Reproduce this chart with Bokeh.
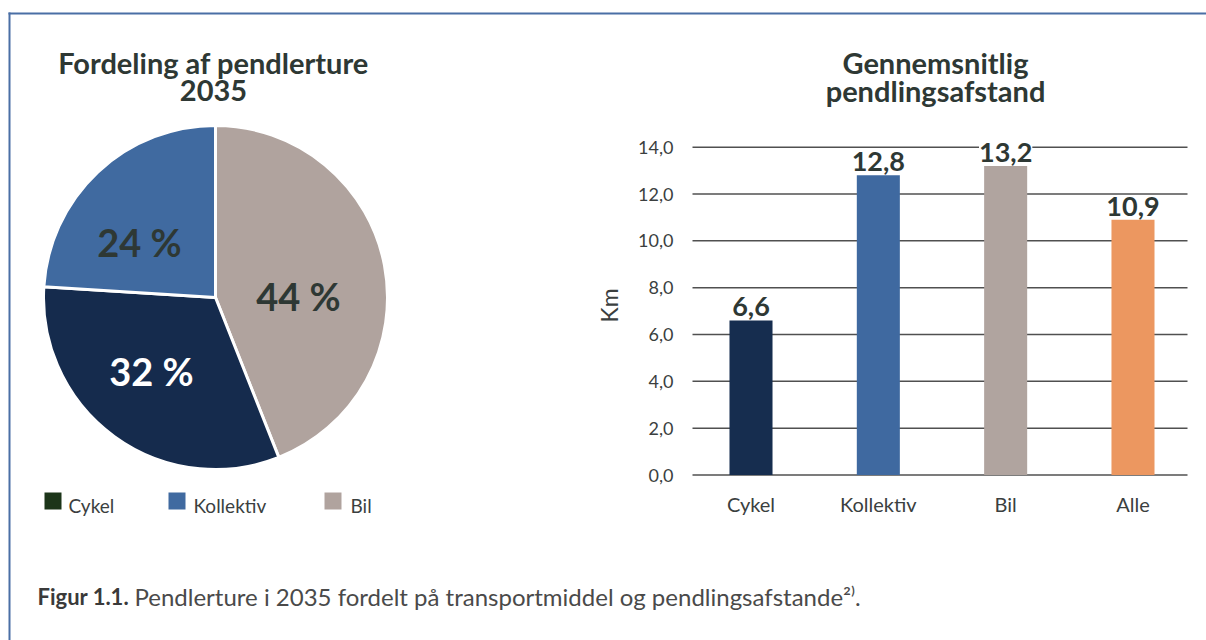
from bokeh.plotting import figure
from bokeh.models import Range1d, ColumnDataSource, FixedTicker, CustomJSTickFormatter, LinearAxis
from bokeh.core.properties import value
from bokeh.embed import file_html
from bokeh.resources import INLINE
import math

# ---------------- data ----------------
pie_title = ["Fordeling af pendlerture", "2035"]
pie_cats = ["Cykel", "Kollektiv", "Bil"]
pie_shares = [32, 24, 44]
pie_colors = ["#152b4d", "#406aa0", "#b0a39e"]
legend_colors = ["#1c3519", "#406aa0", "#b0a39e"]
pie_label_colors = ["#ffffff", "#2e3834", "#2e3834"]

bar_title = ["Gennemsnitlig", "pendlingsafstand"]
bar_cats = ["Cykel", "Kollektiv", "Bil", "Alle"]
bar_values = [6.6, 12.8, 13.2, 10.9]
bar_colors = ["#162d4f", "#3f69a0", "#b0a49f", "#ec9760"]
y_ticks = [0, 2, 4, 6, 8, 10, 12, 14]
y_label = "Km"

caption_bold = "Figur 1.1."
caption_text = "Pendlerture i 2035 fordelt på transportmiddel og pendlingsafstande²⁾."

FONT = "Lato"
DARK = "#2e3834"
TXT = "#3b3f3f"
FRAME = "#4a6fa5"
W, H = 1206, 640

# one canvas, primary ranges in page pixels
p = figure(width=W, height=H, x_range=Range1d(0, W), y_range=Range1d(H, 0),
           x_axis_type=None, y_axis_type=None, toolbar_location=None,
           output_backend="svg", min_border=0)
p.outline_line_color = None
p.background_fill_color = "white"
p.border_fill_color = "white"

# ---------- frame lines ----------
p.quad(left=8, right=W, top=12, bottom=14, color=FRAME, line_color=None)
p.quad(left=8, right=10, top=12, bottom=H, color=FRAME, line_color=None)

# ---------- pie ----------
cx, cy, r = 215, 297, 172
order = [2, 0, 1]  # clockwise from 12 o'clock: Bil, Cykel, Kollektiv
label_pos = {2: (298, 295), 0: (151, 370.5), 1: (139, 241.5)}
total = sum(pie_shares)
cum = 0.0
starts, ends, cols = [], [], []
for i in order:
    a_end = math.radians(90 - cum / total * 360)
    cum += pie_shares[i]
    a_start = math.radians(90 - cum / total * 360)
    starts.append(a_start); ends.append(a_end); cols.append(pie_colors[i])
src = ColumnDataSource(dict(s=starts, e=ends, c=cols))
p.wedge(x=cx, y=cy, radius=r, radius_units="screen", start_angle="s", end_angle="e",
        fill_color="c", line_color="white", line_width=3, source=src)
for i in order:
    x, y = label_pos[i]
    p.text(x=[x], y=[y], text=[f"{pie_shares[i]} %"], text_font=value(FONT),
           text_font_style="bold", text_font_size="38px", text_color=pie_label_colors[i],
           text_align="center", text_baseline="middle")

for k, t in enumerate(pie_title):
    p.text(x=[213], y=[62 + 28 * k], text=[t], text_font=value(FONT), text_font_style="bold",
           text_font_size="29px", text_color=DARK, text_align="center", text_baseline="middle")

leg_sq = [52.5, 176.5, 332.5]
leg_tx = [68, 193, 350]
for k, cat in enumerate(pie_cats):
    p.scatter(x=[leg_sq[k]], y=[500.5], marker="square", size=17, color=legend_colors[k], line_color=None)
    p.text(x=[leg_tx[k]], y=[505], text=[cat], text_font=value(FONT), text_font_size="19px",
           text_color=TXT, text_align="left", text_baseline="middle")

# ---------- bar chart (own scales) ----------
PL, PR = 692, 1187          # plot area left/right in page px
px_per_cat = 127.33
x0_page = 750.5             # page x of first category
bx_start = -x0_page / px_per_cat
bx_end = bx_start + W / px_per_cat
px_per_km = 23.414
zero_page = 474.5
km_end = zero_page / px_per_km
km_start = km_end - H / px_per_km
p.extra_x_ranges = {"bx": Range1d(bx_start, bx_end)}
p.extra_y_ranges = {"km": Range1d(km_start, km_end)}

# grid lines at tick values
p.segment(x0=PL, x1=PR, y0=y_ticks, y1=y_ticks, y_range_name="km", line_color="#505050", line_width=1.5)

yax = LinearAxis(y_range_name="km", fixed_location=PL, ticker=FixedTicker(ticks=y_ticks),
                 formatter=CustomJSTickFormatter(code="return tick.toFixed(1).replace('.', ',');"),
                 bounds=(0, 14.5))
xax = LinearAxis(x_range_name="bx", fixed_location=480, ticker=FixedTicker(ticks=list(range(len(bar_cats)))),
                 major_label_overrides={i: c for i, c in enumerate(bar_cats)})
for ax in (xax, yax):
    ax.axis_line_color = None
    ax.major_tick_line_color = None
    ax.minor_tick_line_color = None
    ax.major_label_text_font = FONT
    ax.major_label_text_color = TXT
yax.major_label_text_font_size = "18px"
yax.major_label_standoff = 13
xax.major_label_text_font_size = "20px"
xax.major_label_standoff = 5
yax.axis_label = y_label
yax.axis_label_text_font = FONT
yax.axis_label_text_font_style = "normal"
yax.axis_label_text_font_size = "23px"
yax.axis_label_text_color = TXT
yax.axis_label_standoff = 12
p.add_layout(yax, "left")
p.add_layout(xax, "below")

bsrc = ColumnDataSource(dict(x=list(range(len(bar_cats))), top=bar_values, c=bar_colors,
                             lab=[f"{v:.1f}".replace(".", ",") for v in bar_values]))
p.text(x="x", y="top", text="lab", source=bsrc, text_font=value(FONT), text_font_style="bold",
       text_font_size="27px", text_color=DARK, text_align="center", text_baseline="middle",
       text_line_height=0.9, y_offset=-13.5, background_fill_color="white", padding=0,
       x_range_name="bx", y_range_name="km")
p.vbar(x="x", top="top", bottom=0, width=0.338, fill_color="c", line_color=None, source=bsrc,
       x_range_name="bx", y_range_name="km")

for k, t in enumerate(bar_title):
    p.text(x=[935], y=[62 + 28 * k], text=[t], text_font=value(FONT), text_font_style="bold",
           text_font_size="29px", text_color=DARK, text_align="center", text_baseline="middle")

# ---------- caption ----------
p.text(x=[37], y=[596], text=[caption_bold], text_font=value(FONT), text_font_style="bold",
       text_font_size="22px", text_color="#3a3a3a", text_baseline="middle")
p.text(x=[134], y=[596], text=[caption_text], text_font=value(FONT),
       text_font_size="24px", text_color="#4a4a4a", text_baseline="middle")

open("out.html", "w").write(file_html(p, INLINE))
